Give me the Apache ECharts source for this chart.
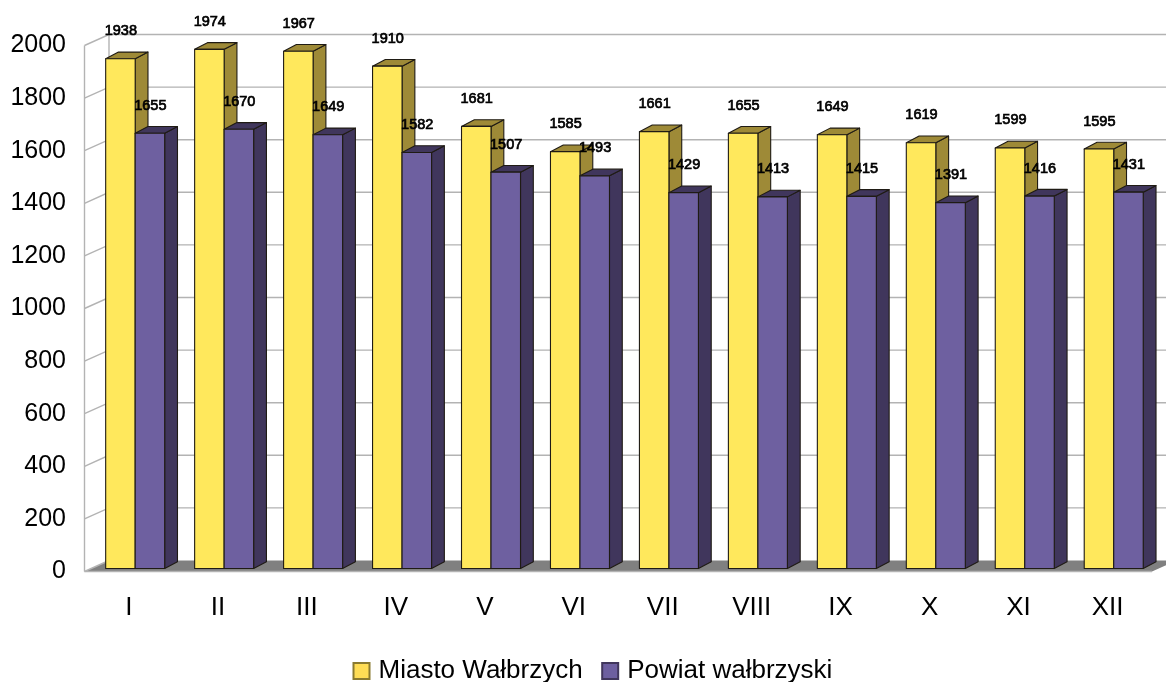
<!DOCTYPE html>
<html><head><meta charset="utf-8">
<style>html,body{margin:0;padding:0;background:#fff}#c{width:1166px;height:682px}</style>
<script src="https://cdn.jsdelivr.net/npm/echarts@6/dist/echarts.min.js"></script>
</head><body><div id="c"></div>
<script>
const months = ['I','II','III','IV','V','VI','VII','VIII','IX','X','XI','XII'];
const ticks = [0,200,400,600,800,1000,1200,1400,1600,1800,2000];
const miasto = [1938,1974,1967,1910,1681,1585,1661,1655,1649,1619,1599,1595];
const powiat = [1655,1670,1649,1582,1507,1493,1429,1413,1415,1391,1416,1431];

const WALL = [24.5,-11];      // depth of the chart box in pixels
const PLANE = [6.2,-3];       // bars stand slightly inside the floor
const BAR_D = [12.8,-6.7];    // depth of a bar
const BAR_W = 29.5;
const FONT = '"Liberation Sans", Arial, sans-serif';

function cuboid(front, side, second){
  return function(params, api){
    const i = api.value(0), v = api.value(1);
    const top = api.coord([i,v]), base = api.coord([i,0]);
    const x0 = top[0] + PLANE[0] + (second ? 0 : -BAR_W), x1 = x0 + BAR_W;
    const yt = top[1] + PLANE[1], yb = base[1] + PLANE[1];
    const s = {stroke:'#1f1b14', lineWidth:1.1, lineJoin:'round'};
    return {type:'group', children:[
      {type:'polygon', shape:{points:[[x1,yb],[x1+BAR_D[0],yb+BAR_D[1]],[x1+BAR_D[0],yt+BAR_D[1]],[x1,yt]]}, style:Object.assign({fill:side},s)},
      {type:'polygon', shape:{points:[[x0,yt],[x0+BAR_D[0],yt+BAR_D[1]],[x1+BAR_D[0],yt+BAR_D[1]],[x1,yt]]}, style:Object.assign({fill:side},s)},
      {type:'rect', shape:{x:x0,y:yt,width:BAR_W,height:yb-yt}, style:Object.assign({fill:front},s)}
    ]};
  };
}
function labels(second){
  return function(params, api){
    const i = api.value(0), v = api.value(1);
    const p = api.coord([i,v]);
    const cx = p[0] + PLANE[0] + (second ? BAR_W/2 : -BAR_W/2) + 0.4;
    return {type:'text', style:{text:String(v), x:cx, y:p[1]+PLANE[1]-27.5, align:'center', verticalAlign:'middle',
      font:'14.5px '+FONT, fill:'#000', stroke:'#000', lineWidth:0.7}};
  };
}
function gridLines(params, api){
  const v = api.value(1);
  const y = api.coord([0,v])[1];
  const cs = params.coordSys, l = cs.x, r = cs.x+cs.width+WALL[0];
  const pts = v === 0
    ? [[l,y],[l+WALL[0],y+WALL[1]]]
    : [[l,y],[l+WALL[0],y+WALL[1]],[r,y+WALL[1]]];
  return {type:'polyline', shape:{points:pts}, style:{stroke:'#b3b3b3', lineWidth:1.4, fill:null}};
}
function walls(params, api){
  const cs = params.coordSys, l = cs.x, t = cs.y, b = cs.y+cs.height, r = cs.x+cs.width;
  return {type:'group', children:[
    {type:'polygon', shape:{points:[[l,b],[l+WALL[0],b+WALL[1]],[r+WALL[0],b+WALL[1]],[r,b]]}, style:{fill:'#808080'}},
    {type:'line', shape:{x1:l,y1:b,x2:r,y2:b}, style:{stroke:'#b3b3b3', lineWidth:1.4}},
    {type:'line', shape:{x1:l,y1:t,x2:l,y2:b}, style:{stroke:'#b3b3b3', lineWidth:1.4}},
    {type:'line', shape:{x1:l+WALL[0],y1:t+WALL[1],x2:l+WALL[0],y2:b+WALL[1]}, style:{stroke:'#b3b3b3', lineWidth:1.4}}
  ]};
}
const pairs = a => a.map((v,i)=>[i,v]);
const chart = echarts.init(document.getElementById('c'), null, {renderer:'canvas'});
chart.setOption({
  animation:false,
  backgroundColor:'#fff',
  grid:{left:84.5,right:14,top:45.5,bottom:110.5,containLabel:false},
  legend:{
    data:[{name:'Miasto Wałbrzych'},{name:'Powiat wałbrzyski'}],
    left:347.5, top:653, itemWidth:16, itemHeight:16, itemGap:18.5, icon:'rect',
    textStyle:{fontFamily:FONT, fontSize:26, color:'#000', padding:[2,0,0,4]}
  },
  xAxis:{type:'category', data:months, axisLine:{show:false}, axisTick:{show:false}, splitLine:{show:false},
    axisLabel:{fontFamily:FONT, fontSize:26, color:'#000', margin:23}},
  yAxis:{type:'value', min:0, max:2000, interval:200, axisLine:{show:false}, axisTick:{show:false}, splitLine:{show:false},
    axisLabel:{fontFamily:FONT, fontSize:25, color:'#000', margin:18.5, padding:[3,0,0,0], formatter:v=>String(v)}},
  series:[
    {type:'custom', name:'floor', z:1, silent:true, clip:false, renderItem:walls, data:[[0,0]], encode:{x:0,y:1}},
    {type:'custom', name:'grid', z:2, silent:true, clip:false, renderItem:gridLines, data:ticks.map(t=>[0,t]), encode:{x:0,y:1}},
    {type:'custom', name:'Miasto Wałbrzych', z:3, clip:false, itemStyle:{color:'#FFDD55',borderColor:'#8a7a30',borderWidth:1},
      renderItem:cuboid('#FFE85C','#9E8A37',false), data:pairs(miasto), encode:{x:0,y:1}},
    {type:'custom', name:'Powiat wałbrzyski', z:4, clip:false, itemStyle:{color:'#6D5FA0',borderColor:'#40365C',borderWidth:1},
      renderItem:cuboid('#6E60A0','#40365C',true), data:pairs(powiat), encode:{x:0,y:1}},
    {type:'custom', name:'l1', z:5, silent:true, clip:false, renderItem:labels(false), data:pairs(miasto), encode:{x:0,y:1}},
    {type:'custom', name:'l2', z:5, silent:true, clip:false, renderItem:labels(true), data:pairs(powiat), encode:{x:0,y:1}}
  ]
});
</script></body></html>
